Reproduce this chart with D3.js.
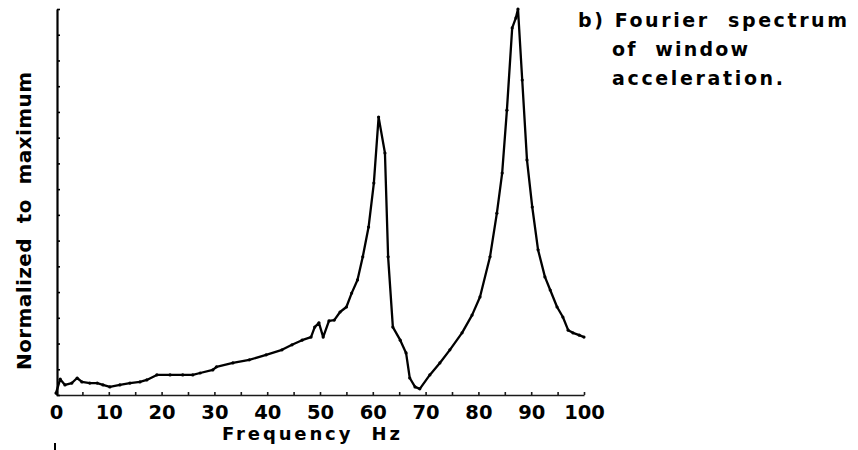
<!DOCTYPE html>
<html>
<head>
<meta charset="utf-8">
<script src="https://cdn.jsdelivr.net/npm/d3@7"></script>
<style>
  html, body { margin: 0; padding: 0; background: #fff; }
  svg { display: block; }
  text { font-family: "DejaVu Sans", sans-serif; font-weight: bold; fill: #000; white-space: pre; }
</style>
</head>
<body>
<svg id="chart" width="858" height="450"></svg>
<script>
// ---- data ----
const freqHz = [0, 0.8, 1.7, 3.0, 4.0, 4.9, 6.4, 7.8, 8.9, 10.2, 12.1, 14.0, 15.9, 17.2, 19.1, 21.6, 24.0, 25.9, 27.3, 29.7,
  30.4, 33.5, 36.6, 39.8, 42.8, 44.7, 46.6, 48.3, 49.0, 49.8, 50.6, 51.7, 52.7, 53.8, 55.0, 56.0, 57.1, 58.1, 59.2, 60.2,
  61.1, 62.3, 62.9, 63.8, 65.2, 66.3, 67.0, 68.0, 68.9, 70.8, 72.7, 74.6, 76.9, 78.8, 80.3, 82.2, 83.5, 84.5, 85.4, 86.4,
  87.1, 87.5, 88.3, 89.2, 90.2, 91.3, 92.6, 93.6, 94.9, 96.0, 97.0, 97.9, 99.1, 100];
const amplitude = [0.005, 0.041, 0.026, 0.031, 0.044, 0.034, 0.031, 0.031, 0.026, 0.021, 0.026, 0.031, 0.034, 0.039, 0.052, 0.052, 0.052, 0.052, 0.057, 0.065,
  0.073, 0.083, 0.091, 0.104, 0.117, 0.130, 0.142, 0.150, 0.176, 0.187, 0.150, 0.192, 0.194, 0.215, 0.228, 0.264, 0.298, 0.358, 0.435, 0.549,
  0.720, 0.627, 0.358, 0.176, 0.142, 0.109, 0.044, 0.021, 0.016, 0.052, 0.083, 0.117, 0.161, 0.207, 0.254, 0.358, 0.471, 0.575, 0.738, 0.951,
  0.977, 1.0, 0.816, 0.609, 0.487, 0.376, 0.306, 0.272, 0.228, 0.202, 0.168, 0.161, 0.155, 0.150];
const xTickLabels = [0, 10, 20, 30, 40, 50, 60, 70, 80, 90, 100];
const xMinorTicks = d3.range(0, 101, 5);
const yTicks = d3.range(0, 16).map(i => i / 15);
const xTitle = "Frequency  Hz";
const yTitle = "Normalized  to  maximum";
const captionLines = ["b) Fourier  spectrum", "of  window", "acceleration."];

// ---- drawing ----
const svg = d3.select("#chart");
const x = d3.scaleLinear().domain([0, 100]).range([56, 584]);
const y = d3.scaleLinear().domain([0, 1]).range([395, 9]);

// X axis: minor inward ticks
const gx = svg.append("g").attr("transform", `translate(0,${y(0)})`)
  .call(d3.axisBottom(x).tickValues(xMinorTicks).tickSize(-3).tickSizeOuter(0).tickFormat(""));
gx.select(".domain").attr("stroke", "#1a1a1a").attr("stroke-width", 1.4);
gx.selectAll(".tick line").attr("stroke", "#1a1a1a").attr("stroke-width", 1.6);

// X tick labels
const gxl = svg.append("g").attr("transform", `translate(0,${y(0)})`)
  .call(d3.axisBottom(x).tickValues(xTickLabels).tickSize(0).tickPadding(10).tickFormat(d3.format("d")));
gxl.select(".domain").remove();
gxl.selectAll("text").style("font-size", "19.5px").style("font-family", "'DejaVu Sans', sans-serif").style("font-weight", "bold");

// Y axis with inward ticks, no labels
const gy = svg.append("g").attr("transform", `translate(${x(0) + 1},0)`)
  .call(d3.axisLeft(y).tickValues(yTicks).tickSize(-3).tickSizeOuter(0).tickFormat(""));
gy.select(".domain").attr("stroke", "#000").attr("stroke-width", 2.2);
gy.selectAll(".tick line").attr("stroke", "#000").attr("stroke-width", 1.6);

// Curve
const pts = freqHz.map((f, i) => [f, amplitude[i]]);
const line = d3.line().x(d => x(d[0])).y(d => y(d[1]));
svg.append("path").datum(pts)
  .attr("d", line).attr("fill", "none").attr("stroke", "#000")
  .attr("stroke-width", 2.3).attr("stroke-linejoin", "round");
svg.append("g").selectAll("circle").data(pts).join("circle")
  .attr("cx", d => x(d[0])).attr("cy", d => y(d[1])).attr("r", 1.6).attr("fill", "#000");

// Axis titles
svg.append("text").attr("x", 222).attr("y", 440)
  .attr("textLength", 178).attr("lengthAdjust", "spacing")
  .style("font-size", "18px").text(xTitle);

svg.append("text").attr("transform", "translate(31,370) rotate(-90)")
  .attr("x", 0).attr("y", 0)
  .attr("textLength", 298).attr("lengthAdjust", "spacing")
  .style("font-size", "20px").text(yTitle);

// Caption
const capX = [578, 612, 612];
const capY = [27, 56, 85];
const capW = [269, 136, 171];
captionLines.forEach((t, i) => {
  svg.append("text").attr("x", capX[i]).attr("y", capY[i])
    .attr("textLength", capW[i]).attr("lengthAdjust", "spacing")
    .style("font-size", "19px").text(t);
});

// small stray scan mark below the origin label
svg.append("line").attr("x1", 55).attr("x2", 55).attr("y1", 443).attr("y2", 450)
  .attr("stroke", "#000").attr("stroke-width", 2);
</script>
</body>
</html>
